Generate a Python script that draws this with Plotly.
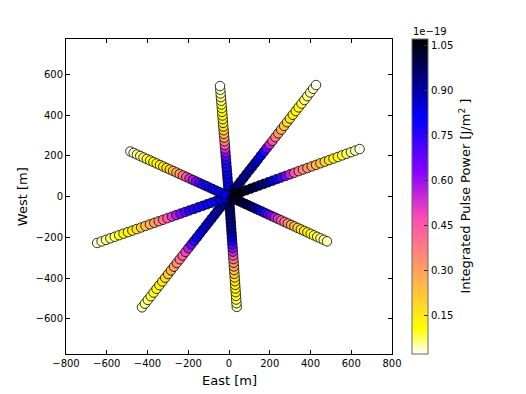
import numpy as np
import plotly.graph_objects as go

# ---------------- data ----------------
n_per_arm = 30
# arm tip positions [East m, West m]
tip_N = (-44, 542)
tip_S = (38, -542)
tip_NE = (427, 547)
tip_SW = (-427, -544)
tip_ENE = (641, 233)
tip_WSW = (-647, -228)
tip_NW = (-484, 221)
tip_SE = (481, -220)

# integrated pulse power (units of 1e-19 J/m^2), ordered centre -> tip
power_N = [0.83, 0.82, 0.81, 0.81, 0.80, 0.80, 0.79, 0.78, 0.77, 0.74,
           0.69, 0.62, 0.55, 0.46, 0.38, 0.31, 0.26, 0.22, 0.18, 0.15,
           0.13, 0.12, 0.11, 0.10, 0.085, 0.07, 0.06, 0.05, 0.04, 0.025]
power_S = [1.00, 0.98, 0.96, 0.95, 0.94, 0.93, 0.92, 0.91, 0.90, 0.88,
           0.83, 0.78, 0.70, 0.62, 0.55, 0.46, 0.39, 0.33, 0.28, 0.24,
           0.20, 0.17, 0.15, 0.14, 0.12, 0.11, 0.09, 0.075, 0.06, 0.045]
power_NE = [0.97, 0.96, 0.95, 0.94, 0.93, 0.92, 0.91, 0.90, 0.88, 0.85,
            0.81, 0.76, 0.66, 0.56, 0.46, 0.38, 0.32, 0.27, 0.23, 0.19,
            0.16, 0.14, 0.12, 0.10, 0.085, 0.07, 0.06, 0.05, 0.04, 0.025]
power_SW = [0.93, 0.92, 0.91, 0.90, 0.89, 0.88, 0.87, 0.86, 0.84, 0.82,
            0.79, 0.75, 0.66, 0.57, 0.49, 0.44, 0.39, 0.34, 0.30, 0.26,
            0.22, 0.18, 0.15, 0.13, 0.11, 0.09, 0.08, 0.065, 0.055, 0.045]
power_ENE = [1.072, 1.06, 1.05, 1.04, 1.02, 1.00, 0.97, 0.95, 0.92, 0.86,
             0.80, 0.74, 0.65, 0.56, 0.46, 0.40, 0.36, 0.33, 0.29, 0.26,
             0.23, 0.19, 0.16, 0.13, 0.11, 0.09, 0.075, 0.06, 0.045, 0.03]
power_WSW = [0.83, 0.82, 0.81, 0.80, 0.80, 0.79, 0.78, 0.77, 0.75, 0.70,
             0.64, 0.58, 0.52, 0.45, 0.40, 0.35, 0.31, 0.27, 0.23, 0.20,
             0.17, 0.15, 0.13, 0.11, 0.09, 0.075, 0.065, 0.055, 0.045, 0.03]
power_NW = [0.83, 0.82, 0.81, 0.80, 0.80, 0.79, 0.78, 0.76, 0.70, 0.64,
            0.58, 0.52, 0.45, 0.38, 0.32, 0.28, 0.23, 0.20, 0.17, 0.15,
            0.14, 0.12, 0.11, 0.10, 0.085, 0.07, 0.06, 0.05, 0.04, 0.022]
power_SE = [1.05, 1.04, 1.03, 1.02, 1.00, 0.98, 0.96, 0.93, 0.88, 0.82,
            0.76, 0.69, 0.63, 0.57, 0.51, 0.45, 0.39, 0.34, 0.29, 0.25,
            0.21, 0.17, 0.15, 0.13, 0.11, 0.09, 0.08, 0.065, 0.055, 0.045]

c_min, c_max = 0.022, 1.072
cbar_ticks = [0.15, 0.30, 0.45, 0.60, 0.75, 0.90, 1.05]
cbar_ticktext = ["0.15", "0.30", "0.45", "0.60", "0.75", "0.90", "1.05"]
x_ticks = [-800, -600, -400, -200, 0, 200, 400, 600, 800]
y_ticks = [-600, -400, -200, 0, 200, 400, 600]

# ---------------- build ----------------
frac = np.arange(1, n_per_arm + 1) / n_per_arm


def arm(tip, power, outward=True):
    xs = tip[0] * frac
    ys = tip[1] * frac
    p = np.array(power)
    if not outward:
        return xs[::-1], ys[::-1], p[::-1]
    return xs, ys, p


lines = [(tip_S, power_S, tip_N, power_N),
         (tip_SW, power_SW, tip_NE, power_NE),
         (tip_WSW, power_WSW, tip_ENE, power_ENE),
         (tip_NW, power_NW, tip_SE, power_SE)]
X, Y, P = [], [], []
for ta, pa, tb, pb in lines:
    xa, ya, va = arm(ta, pa, outward=False)
    xb, yb, vb = arm(tb, pb, outward=True)
    X += list(xa) + list(xb)
    Y += list(ya) + list(yb)
    P += list(va) + list(vb)


def gnuplot2(x):
    r = np.clip(x / 0.32 - 0.78125, 0, 1)
    g = np.clip(2 * x - 0.84, 0, 1)
    if x < 0.25:
        b = 4 * x
    elif x < 0.92:
        b = -2 * x + 1.84
    else:
        b = x / 0.08 - 11.5
    b = np.clip(b, 0, 1)
    return "rgb(%d,%d,%d)" % (round(r * 255), round(g * 255), round(b * 255))


stops = np.linspace(0, 1, 51)
colorscale = [[float(s), gnuplot2(1 - s)] for s in stops]

FONT = "DejaVu Sans"
fig = go.Figure()
fig.add_trace(go.Scatter(
    x=X, y=Y, mode="markers",
    marker=dict(size=9.5, color=P, colorscale=colorscale, cmin=c_min, cmax=c_max,
                line=dict(color="black", width=0.8),
                showscale=True,
                colorbar=dict(x=1.061, xanchor="left", xref="paper",
                              y=0.5, yanchor="middle", len=1, lenmode="fraction",
                              thickness=16, xpad=0, ypad=0,
                              outlinecolor="#666666", outlinewidth=1,
                              tickvals=cbar_ticks, ticktext=cbar_ticktext,
                              ticks="inside", ticklen=4, tickcolor="#333333",
                              tickfont=dict(family=FONT, size=10, color="black"))),
    showlegend=False, hoverinfo="skip"))

axis_common = dict(showline=True, linecolor="black", linewidth=1, mirror="ticks",
                   ticks="inside", ticklen=4, tickcolor="black",
                   showgrid=False, zeroline=False,
                   tickfont=dict(family=FONT, size=10, color="black"))
fig.update_xaxes(range=[-800, 800], tickvals=x_ticks, **axis_common)
fig.update_yaxes(range=[-773, 773], tickvals=y_ticks, **axis_common)

# page body has an 8px margin, so the figure is drawn 8px in from the window edge
fig.update_layout(
    width=518, height=386, autosize=False,
    margin=dict(l=58, r=134, t=31, b=40),
    plot_bgcolor="white", paper_bgcolor="white",
    font=dict(family=FONT, color="black"),
    annotations=[
        dict(text="East [m]", x=0.5, y=-0.055, xref="paper", yref="paper",
             xanchor="center", yanchor="top", showarrow=False,
             font=dict(family=FONT, size=13)),
        dict(text="West [m]", x=-0.133, y=0.5, xref="paper", yref="paper",
             xanchor="center", yanchor="middle", textangle=-90, showarrow=False,
             font=dict(family=FONT, size=13)),
        dict(text="Integrated Pulse Power [J/m<sup>2</sup> ]", x=1.221, y=0.5,
             xref="paper", yref="paper", xanchor="center", yanchor="middle",
             textangle=-90, showarrow=False, font=dict(family=FONT, size=13)),
        dict(text="1e\u221219", x=1.117, y=1.0, xref="paper", yref="paper",
             xanchor="center", yanchor="bottom", showarrow=False,
             font=dict(family=FONT, size=10)),
    ],
)

fig.write_html("out.html")
